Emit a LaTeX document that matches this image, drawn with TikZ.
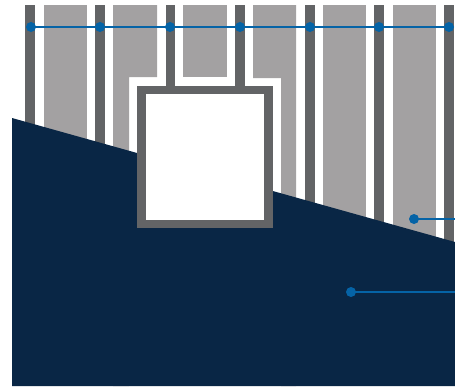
\documentclass[tikz,border=0pt]{standalone}
\usepackage{tikz}
\definecolor{studcol}{RGB}{99,100,102}
\definecolor{panelcol}{RGB}{163,161,162}
\definecolor{navycol}{RGB}{9,38,69}
\definecolor{leadcol}{RGB}{5,99,166}

\begin{document}
\begin{tikzpicture}[x=0.02cm, y=-0.02cm,
  studbar/.style={fill=studcol},
  panelbox/.style={fill=panelcol},
  leadline/.style={draw=leadcol, line width=1.5pt},
  leaddot/.style={fill=leadcol}
]
\useasboundingbox (0,0) rectangle (455,386);

% panels between the studs
\fill[panelbox] (44,5) rectangle (87,386);
\fill[panelbox] (113,5) -- (157,5) -- (157,77) -- (129,77) -- (129,386) -- (113,386) -- cycle;
\fill[panelbox] (183,5) rectangle (227,77);
\fill[panelbox] (253,5) -- (296,5) -- (296,386) -- (281,386) -- (281,78) -- (253,78) -- cycle;
\fill[panelbox] (323,5) rectangle (366,386);
\fill[panelbox] (393,5) rectangle (436,386);

% studs
\foreach \sx in {25,95,305,374,444}
  \fill[studbar] (\sx,5) rectangle ++(10,381);
\fill[studbar] (166,5) rectangle (175,86);
\fill[studbar] (235,5) rectangle (245,86);

% slab
\fill[navycol] (12,118) -- (455,242) -- (455,386) -- (12,386) -- cycle;

% window
\fill[studcol] (137,86) rectangle (273,228);
\fill[white] (146,94) rectangle (264,220);

% callouts
\foreach \n/\px in {1/31,2/100,3/170,4/240,5/310,6/379,7/449}
  \coordinate (top\n) at (\px,27);
\coordinate (panelpt) at (414,219);
\coordinate (panelend) at (455,219);
\coordinate (slabpt) at (351,292);
\coordinate (slabend) at (455,292);

\draw[leadline] (top1) -- (top7);
\draw[leadline] (panelpt) -- (panelend);
\draw[leadline] (slabpt) -- (slabend);
\foreach \p in {top1,top2,top3,top4,top5,top6,top7,panelpt,slabpt}
  \fill[leaddot] (\p) circle[radius=0.1cm];
\end{tikzpicture}
\end{document}
